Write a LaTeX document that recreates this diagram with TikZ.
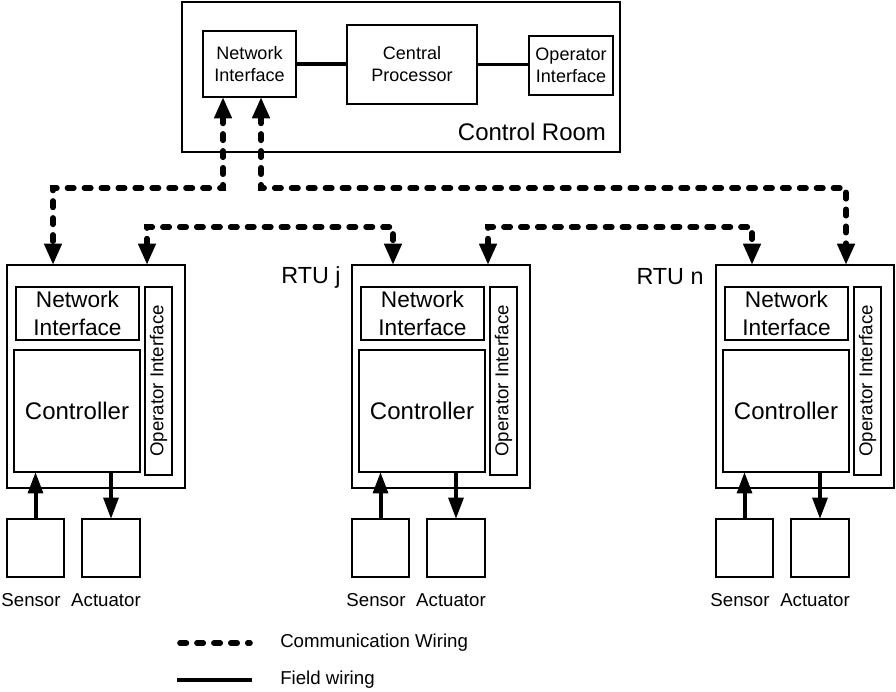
\documentclass[tikz,border=0pt]{standalone}
\usepackage{fontspec}
\setmainfont{Liberation Sans}
\usetikzlibrary{arrows.meta,calc}
\begin{document}
\begin{tikzpicture}[x=0.75pt,y=-0.75pt,
  box/.style={draw,line width=2.2pt,inner sep=0pt,outer sep=0pt,align=center,anchor=north west},
  wh/.style 2 args={minimum width=#1*0.75pt,minimum height=#2*0.75pt},
  conn/.style={line width=2.6pt},
  txt/.style={inner sep=0pt,align=center},
  commline/.style={line width=4.2pt,dash pattern=on 4.8pt off 7.9pt,line cap=round},
  comm/.style={commline,{Triangle[length=16pt,width=12.5pt]}-{Triangle[length=16pt,width=12.5pt]}},
  field/.style={line width=3pt,-{Triangle[length=16pt,width=11pt]}},
  fsmall/.style={font=\fontsize{13.5}{16.5}\selectfont},
  fmid/.style={font=\fontsize{14}{17}\selectfont},
  fni/.style={font=\fontsize{17}{20.5}\selectfont},
  fbig/.style={font=\fontsize{18}{21}\selectfont}
]
\useasboundingbox (0,0) rectangle (896,692);

% Control room
\node[box,wh={438}{150}] (cr) at (182,2) {};
\node[txt,fbig] (crl) at (532,132) {Control Room};
\node[box,fsmall,wh={93}{66}] (ni0) at (203,31) {Network\\Interface};
\node[box,fsmall,wh={130}{79}] (cp) at (347,25) {Central\\Processor};
\node[box,fsmall,wh={84}{59}] (oi0) at (529,36) {Operator\\Interface};
\draw[conn] (ni0.east) -- (ni0.east -| cp.west);
\draw[conn] (cp.east) -- (cp.east -| oi0.west);

% RTUs
\foreach \n/\x in {a/7,j/352,n/716}{
  \node[box,wh={178}{223}] (rtu\n) at (\x,265) {};
  \node[box,fni,wh={123}{53}] (ni\n) at (\x+9,287) {Network\\Interface};
  \node[box,fbig,wh={126}{122}] (c\n) at (\x+7,350) {Controller};
  \node[box,wh={27}{188}] (oi\n) at (\x+138,287) {};
  \node[txt,fmid,rotate=90] (oit\n) at (oi\n.center) {Operator Interface};
  \node[box,wh={57}{58}] (s\n) at (\x,519) {};
  \node[box,wh={58}{58}] (act\n) at (\x+75,519) {};
  \node[txt,fmid] (sl\n) at (\x+24,600) {Sensor};
  \node[txt,fmid] (al\n) at (\x+99,600) {Actuator};
  \draw[field] (s\n.north) -- (s\n.north |- c\n.south);
  \draw[field] (act\n.north |- c\n.south) -- (act\n.north);
}
\node[txt,font=\fontsize{17.5}{21}\selectfont] (lj) at (311,277) {RTU j};
\node[txt,font=\fontsize{17.5}{21}\selectfont] (ln) at (670,277) {RTU n};

% Communication wiring
\draw[comm] ($(ni0.south west)+(20,0)$) -- ++(0,91) -| ($(rtua.north west)+(46,0)$);
\draw[comm] ($(ni0.south west)+(58,0)$) -- ++(0,91) -| ($(rtun.north west)+(130,0)$);
\draw[comm] ($(rtua.north west)+(140,0)$) -- ++(0,-38) -| ($(rtuj.north west)+(41,0)$);
\draw[comm] ($(rtuj.north west)+(136,0)$) -- ++(0,-38) -| ($(rtun.north west)+(36,0)$);

% Legend
\node[txt,fmid,anchor=west] (lgc) at (280,643) {Communication Wiring};
\node[txt,fmid,anchor=west] (lgf) at (280,680) {Field wiring};
\draw[commline] ($(lgc.west)+(-100,0)$) -- ($(lgc.west)+(-30,0)$);
\draw[line width=3.6pt] ($(lgf.west)+(-103,0)$) -- ($(lgf.west)+(-28,0)$);
\end{tikzpicture}
\end{document}
